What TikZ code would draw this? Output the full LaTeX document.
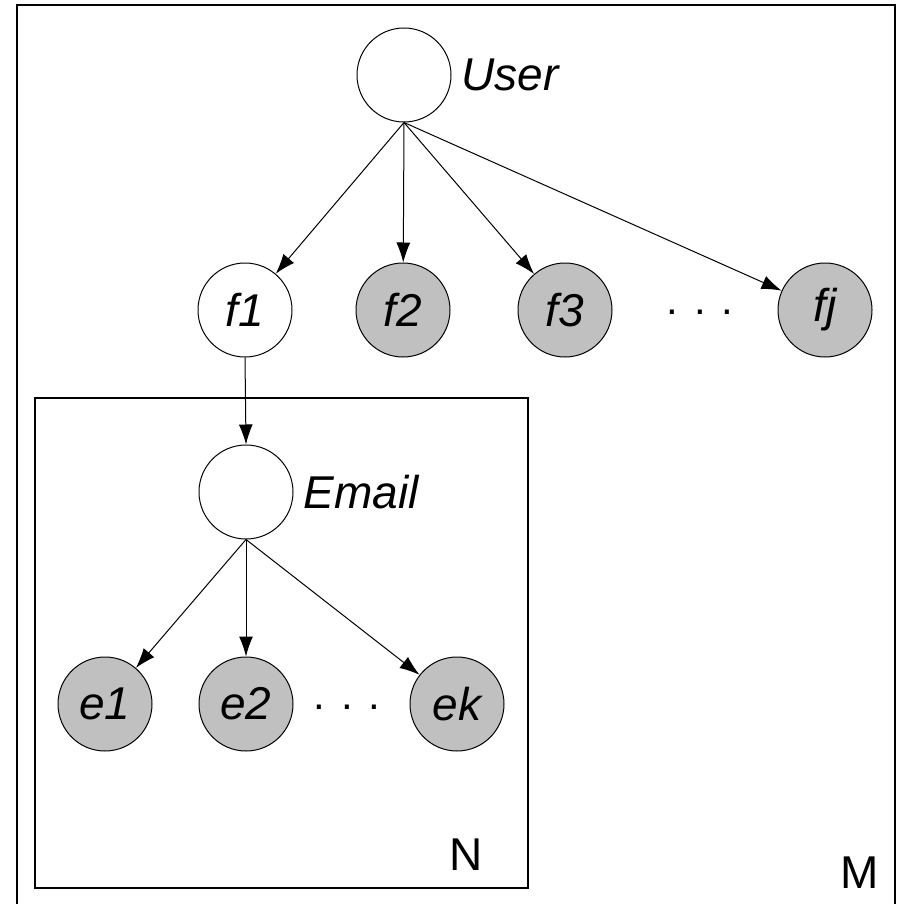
\documentclass[tikz,border=0pt]{standalone}
\usepackage{fontspec}
\setmainfont{Liberation Sans}
\usetikzlibrary{arrows.meta}
\definecolor{obsgray}{RGB}{192,192,192}

\tikzset{
  latent/.style={circle, draw, line width=1pt, minimum size=94pt, inner sep=0pt,
    font=\fontsize{46}{52}\selectfont\itshape},
  observed/.style={latent, fill=obsgray},
  edge/.style={-{Latex[length=20pt,width=14pt]}, line width=1pt},
  plate/.style={draw, line width=1.8pt},
  platelab/.style={inner sep=0pt, font=\fontsize{46}{52}\selectfont},
  varlab/.style={anchor=west, inner sep=10pt, font=\fontsize{46}{52}\selectfont\itshape},
}

\begin{document}
\begin{tikzpicture}[x=1pt,y=-1pt]
  \clip (0,0) rectangle (901,904);

  % plates
  \draw[plate] (17,5) rectangle (895,930);
  \draw[plate] (35,398) rectangle (528,888);
  \node[platelab] (platem) at (860,873) {M};
  \node[platelab] (platen) at (466,855) {N};

  % user and its features
  \node[latent] (user) at (404,75) {};
  \node[varlab] (userlab) at (user.east) {User};
  \foreach \name/\x/\kind in {f1/245/latent, f2/403/observed, f3/565/observed, fj/825/observed}{
    \node[\kind] (\name) at (\x,310) {\name};
    \draw[edge] (user.south) -- (\name);
  }
  \node[font=\fontsize{42}{50}\selectfont] (fdots) at (700,312) {.\hspace{16pt}.\hspace{16pt}.};

  % email and its features
  \node[latent] (email) at (246,492) {};
  \node[varlab] (emaillab) at (email.east) {Email};
  \draw[edge] (f1.south) -- (email.north);
  \foreach \name/\x in {e1/105, e2/246, ek/457}{
    \node[observed] (\name) at (\x,704) {\name};
    \draw[edge] (email.south) -- (\name);
  }
  \node[font=\fontsize{42}{50}\selectfont] (edots) at (347,707) {.\hspace{16pt}.\hspace{16pt}.};
\end{tikzpicture}
\end{document}
